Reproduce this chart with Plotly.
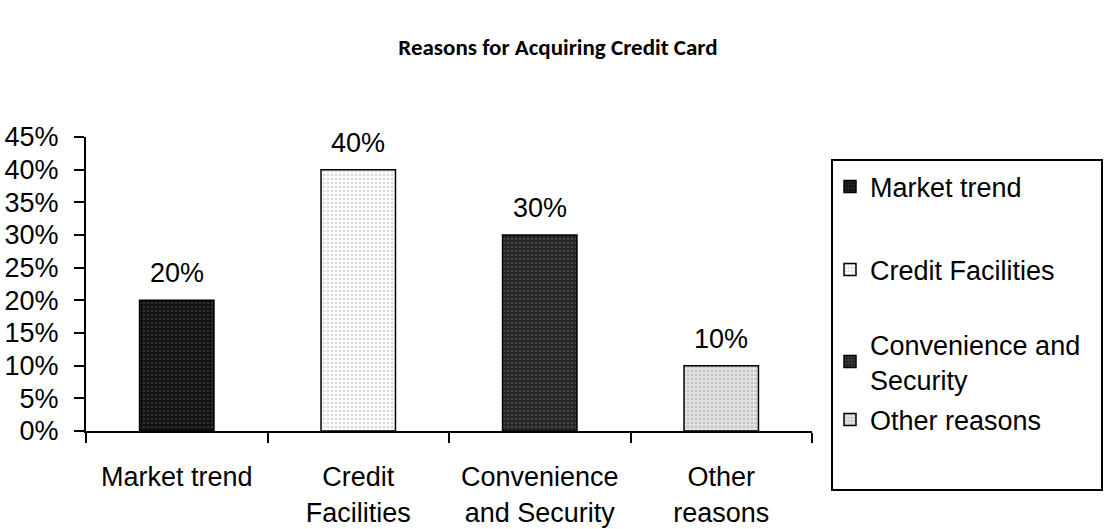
import plotly.graph_objects as go

# Survey results: reasons respondents gave for acquiring a credit card
categories = ["Market trend", "Credit Facilities", "Convenience and Security", "Other reasons"]
axis_labels = ["Market trend", "Credit<br>Facilities", "Convenience<br>and Security", "Other<br>reasons"]
legend_labels = ["Market trend", "Credit Facilities", "Convenience and<br>Security", "Other reasons"]
shares = [0.20, 0.40, 0.30, 0.10]

# Dotted fills in the spirit of classic spreadsheet pattern shading
fills = [
    dict(bg="#101010", fg="#303030"),
    dict(bg="#ffffff", fg="#d8d8d8"),
    dict(bg="#242424", fg="#484848"),
    dict(bg="#e4e4e4", fg="#c2c2c2"),
]

FONT = "Liberation Sans, Arial, sans-serif"

# Plot-area geometry in pixels, used to place the legend entries
W, H = 1104, 529
ML, MR, MT, MB = 86, 292, 137, 98
PW, PH = W - ML - MR, H - MT - MB


def px_x(px):
    return (px - ML) / PW


def px_y(py):
    return (H - MB - py) / PH


fig = go.Figure()

legend_centres = [187, 270, 362, 420]
legend_keys = ["legend", "legend2", "legend3", "legend4"]

for cat, lab, leg, val, fill, key in zip(categories, axis_labels, legend_labels,
                                          shares, fills, legend_keys):
    fig.add_trace(go.Bar(
        x=[lab],
        y=[val],
        name=leg,
        width=0.41,
        legend=key,
        marker=dict(
            color=fill["bg"],
            line=dict(color="#000000", width=1.5),
            pattern=dict(shape=".", bgcolor=fill["bg"], fgcolor=fill["fg"],
                         size=4, solidity=0.35, fillmode="replace"),
        ),
        hovertemplate=cat + ": %{y:.0%}<extra></extra>",
    ))
    fig.add_annotation(
        x=lab, y=val, text=f"{val:.0%}", showarrow=False,
        yanchor="bottom", yshift=10,
        font=dict(family=FONT, size=27, color="#000000"),
    )

layout_legends = {}
for key, centre in zip(legend_keys, legend_centres):
    layout_legends[key] = dict(
        x=px_x(830), y=px_y(centre), xanchor="left", yanchor="middle",
        bgcolor="rgba(0,0,0,0)", borderwidth=0,
        font=dict(family=FONT, size=27, color="#000000"),
    )

fig.update_layout(
    width=W, height=H,
    margin=dict(l=ML, r=MR, t=MT, b=MB, pad=0, autoexpand=False),
    paper_bgcolor="#ffffff",
    plot_bgcolor="#ffffff",
    barmode="overlay",
    showlegend=True,
    title=dict(
        text="<b>Reasons for Acquiring Credit Card</b>",
        x=0.5054, xanchor="center", y=1 - 47 / H, yanchor="middle",
        font=dict(family="Carlito, Lato, sans-serif", size=23, color="#000000"),
    ),
    font=dict(family=FONT, size=27, color="#000000"),
    xaxis=dict(
        type="category",
        categoryorder="array", categoryarray=axis_labels,
        range=[-0.5, 3.5], automargin=False,
        showline=True, linecolor="#000000", linewidth=2,
        ticks="outside", tickson="boundaries", ticklen=10, tickwidth=2,
        tickcolor="#000000", showgrid=False, zeroline=False,
        ticklabelstandoff=21,
        tickfont=dict(family=FONT, size=27, color="#000000"),
    ),
    yaxis=dict(
        range=[0, 0.45], dtick=0.05, tick0=0, tickformat=".0%",
        automargin=False,
        showline=True, linecolor="#000000", linewidth=2,
        ticks="outside", ticklen=10, tickwidth=2, tickcolor="#000000",
        showgrid=False, zeroline=False,
        ticklabelstandoff=10,
        tickfont=dict(family=FONT, size=27, color="#000000"),
    ),
    shapes=[dict(
        type="rect", xref="paper", yref="paper",
        x0=px_x(832), x1=px_x(1102), y0=px_y(490), y1=px_y(160),
        line=dict(color="#000000", width=2), fillcolor="rgba(0,0,0,0)",
        layer="below",
    )],
    **layout_legends,
)

fig.write_html("out.html")
